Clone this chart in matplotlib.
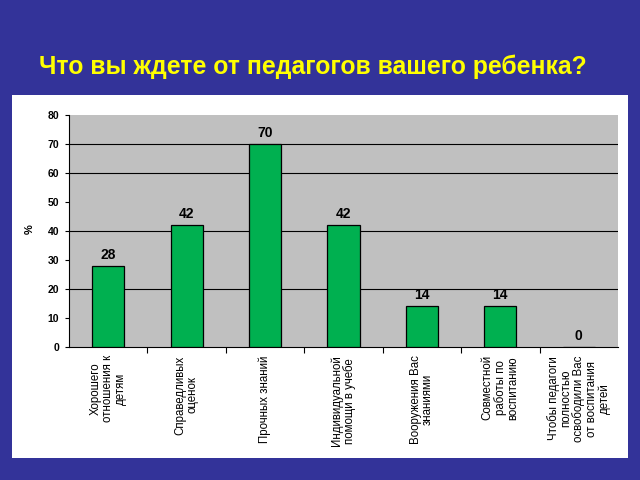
import matplotlib
matplotlib.use("Agg")
import matplotlib.pyplot as plt
from matplotlib.patches import Rectangle

categories = [
    "Хорошего\nотношения к\nдетям",
    "Справедливых\nоценок",
    "Прочных знаний",
    "Индивидуальной\nпомощи в учебе",
    "Вооружения Вас\nзнаниями",
    "Совместной\nработы по\nвоспитанию",
    "Чтобы педагоги\nполностью\nосвободили Вас\nот воспитания\nдетей",
]
values = [28, 42, 70, 42, 14, 14, 0]
yticks = [0, 10, 20, 30, 40, 50, 60, 70, 80]
title = "Что вы ждете от педагогов вашего ребенка?"
ylabel = "%"

plt.rcParams['font.family'] = ['Liberation Sans', 'DejaVu Sans']

fig = plt.figure(figsize=(6.4, 4.8), dpi=100)
fig.patch.set_facecolor('#333399')

panel = Rectangle((12/640, 22/480), 616/640, 363/480, transform=fig.transFigure,
                  facecolor='white', edgecolor='none', zorder=-5)
fig.patches.append(panel)

fig.text(313/640, 1 - 67/480, title, color='#FFFF00', fontsize=17.8,
         fontweight='bold', ha='center', va='center')

ax = fig.add_axes([69/640, 133/480, 549/640, 232/480])
ax.set_zorder(2)
ax.set_facecolor('#C0C0C0')
x = list(range(len(values)))
bars = ax.bar(x, values, width=0.41, color='#00B050', edgecolor='black',
              linewidth=0.9, zorder=3)
for xi, v in zip(x, values):
    ax.annotate(str(v), (xi, v), xytext=(0, 3), textcoords='offset points',
                ha='center', va='bottom', fontsize=10, fontweight='bold')

for g in [20, 40, 60, 70]:
    ax.axhline(g, color='black', linewidth=0.8, zorder=1)

ax.set_xlim(-0.5, len(values) - 0.5)
ax.set_ylim(0, 80)
ax.set_yticks(yticks)
ax.set_yticklabels([str(t) for t in yticks], fontsize=7.5, fontweight='bold')
ax.tick_params(axis='y', direction='out', length=3, width=0.8, pad=4)

ax.set_xticks(x)
ax.set_xticklabels(categories, rotation=90, fontsize=8.3, va='top', ha='center',
                   multialignment='center', linespacing=1.05)
ax.tick_params(axis='x', which='major', length=0, pad=6)
ax.set_xticks([i + 0.5 for i in range(len(values) - 1)], minor=True)
ax.tick_params(axis='x', which='minor', direction='out', length=4, width=0.8)

for side in ['top', 'right']:
    ax.spines[side].set_visible(False)
ax.spines['left'].set_color('black')
ax.spines['bottom'].set_color('black')
ax.spines['left'].set_linewidth(0.8)
ax.spines['bottom'].set_linewidth(0.8)

fig.text(30/640, 1 - 229/480, ylabel, rotation=90, fontsize=8, fontweight='bold',
         ha='center', va='center')

fig.savefig('out.png', dpi=100, facecolor=fig.get_facecolor())
